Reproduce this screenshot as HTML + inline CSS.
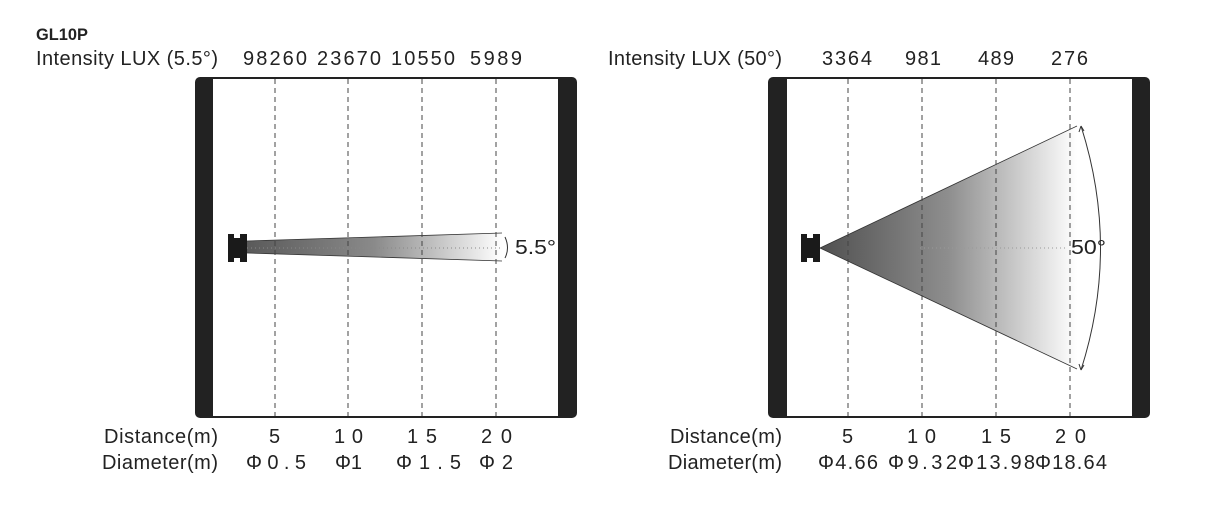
<!DOCTYPE html>
<html><head><meta charset="utf-8"><style>
html,body{margin:0;padding:0;background:#fff;}
svg{display:block;font-family:"Liberation Sans",Arial,sans-serif;}
</style></head><body>
<svg width="1218" height="509" viewBox="0 0 1218 509" xmlns="http://www.w3.org/2000/svg">
<defs>
<linearGradient id="g1" x1="247" y1="0" x2="502" y2="0" gradientUnits="userSpaceOnUse">
<stop offset="0" stop-color="#5a5a5a"/><stop offset="0.5" stop-color="#8a8a8a"/><stop offset="1" stop-color="#ffffff"/></linearGradient>
<linearGradient id="g2" x1="820" y1="0" x2="1077" y2="0" gradientUnits="userSpaceOnUse">
<stop offset="0" stop-color="#505050"/><stop offset="0.5" stop-color="#8e8e8e"/><stop offset="1" stop-color="#ffffff"/></linearGradient>
</defs>
<text x="36" y="40" font-size="17" font-weight="bold" fill="#222" textLength="52" lengthAdjust="spacingAndGlyphs">GL10P</text>
<g font-size="20" fill="#222" lengthAdjust="spacingAndGlyphs">
<text x="36" y="65" textLength="182">Intensity LUX (5.5°)</text>
<text x="243" y="65" textLength="64">98260</text>
<text x="317" y="65" textLength="64">23670</text>
<text x="391" y="65" textLength="64">10550</text>
<text x="470" y="65" textLength="52">5989</text>
<text x="608" y="65" textLength="174">Intensity LUX (50°)</text>
<text x="822" y="65" textLength="50">3364</text>
<text x="905" y="65" textLength="36">981</text>
<text x="978" y="65" textLength="36">489</text>
<text x="1051" y="65" textLength="37">276</text>
<text x="104" y="443" textLength="114">Distance(m)</text>
<text x="102" y="469" textLength="116">Diameter(m)</text>
<text x="269" y="443" textLength="12">5</text>
<text x="334" y="443" textLength="29">10</text>
<text x="407" y="443" textLength="30">15</text>
<text x="481" y="443" textLength="31">20</text>
<text x="246" y="469" textLength="60">Φ0.5</text>
<text x="335" y="469" textLength="27">Φ1</text>
<text x="396" y="469" textLength="65">Φ1.5</text>
<text x="479" y="469" textLength="34">Φ2</text>
<text x="670" y="443" textLength="112">Distance(m)</text>
<text x="668" y="469" textLength="114">Diameter(m)</text>
<text x="842" y="443" textLength="12">5</text>
<text x="907" y="443" textLength="29">10</text>
<text x="981" y="443" textLength="30">15</text>
<text x="1055" y="443" textLength="31">20</text>
<text x="818" y="469" textLength="60">Φ4.66</text>
<text x="888" y="469" textLength="69">Φ9.32</text>
<text x="958" y="469" textLength="77">Φ13.98</text>
<text x="1035" y="469" textLength="72">Φ18.64</text>
</g>
<rect x="195" y="77" width="382" height="341" rx="5" fill="#222"/>
<rect x="213" y="79" width="345" height="337" fill="#fff"/>
<polygon points="247,241 502,233 502,261 247,253" fill="url(#g1)"/>
<line x1="247" y1="241" x2="502" y2="233" stroke="#333" stroke-width="0.8"/>
<line x1="247" y1="253" x2="502" y2="261" stroke="#333" stroke-width="0.8"/>
<line x1="247" y1="248" x2="500" y2="248" stroke="#888" stroke-width="1" stroke-dasharray="1,3"/>
<g stroke="#444" stroke-width="1" stroke-dasharray="5,4">
<line x1="275" y1="79" x2="275" y2="416"/><line x1="348" y1="79" x2="348" y2="416"/>
<line x1="422" y1="79" x2="422" y2="416"/><line x1="496" y1="79" x2="496" y2="416"/>
</g>
<rect x="228" y="234" width="19" height="28" fill="#1a1a1a"/>
<rect x="234" y="234" width="6" height="4" fill="#fff"/>
<rect x="234" y="258" width="6" height="4" fill="#fff"/>
<path d="M505,237 Q510,248 505,258" fill="none" stroke="#333" stroke-width="1"/>
<text x="515" y="254" font-size="20" fill="#222" textLength="41" lengthAdjust="spacingAndGlyphs">5.5°</text>
<rect x="768" y="77" width="382" height="341" rx="5" fill="#222"/>
<rect x="787" y="79" width="345" height="337" fill="#fff"/>
<polygon points="820,248 1077,126 1077,369" fill="url(#g2)"/>
<line x1="820" y1="248" x2="1077" y2="126" stroke="#333" stroke-width="0.8"/>
<line x1="820" y1="248" x2="1077" y2="369" stroke="#333" stroke-width="0.8"/>
<line x1="920" y1="248" x2="1068" y2="248" stroke="#999" stroke-width="1" stroke-dasharray="1,3"/>
<g stroke="#444" stroke-width="1" stroke-dasharray="5,4">
<line x1="848" y1="79" x2="848" y2="416"/><line x1="922" y1="79" x2="922" y2="416"/>
<line x1="996" y1="79" x2="996" y2="416"/><line x1="1070" y1="79" x2="1070" y2="416"/>
</g>
<rect x="801" y="234" width="19" height="28" fill="#1a1a1a"/>
<rect x="807" y="234" width="6" height="4" fill="#fff"/>
<rect x="807" y="258" width="6" height="4" fill="#fff"/>
<path d="M1081,126 Q1120,248 1081,370" fill="none" stroke="#333" stroke-width="1"/>
<path d="M1081,126 l-2,6 M1081,126 l3,5 M1081,370 l-2,-6 M1081,370 l3,-5" stroke="#333" stroke-width="1"/>
<text x="1071" y="254" font-size="20" fill="#222" textLength="35" lengthAdjust="spacingAndGlyphs">50°</text>
</svg>
</body></html>
